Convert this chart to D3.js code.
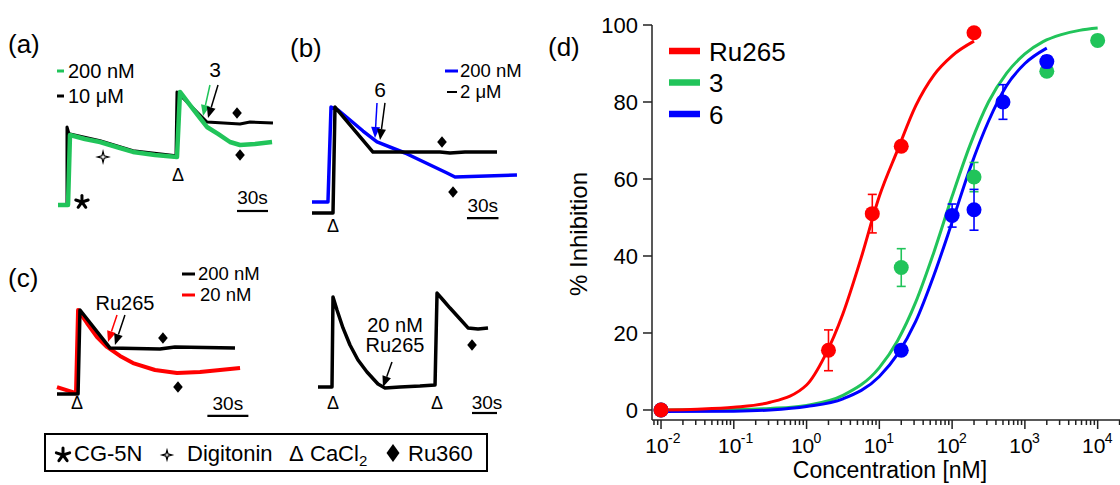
<!DOCTYPE html>
<html><head><meta charset="utf-8">
<script src="https://cdn.jsdelivr.net/npm/d3@7"></script>
<style>body{margin:0;background:#fff}svg{display:block}</style>
</head><body>
<svg id="c" width="1120" height="485"></svg>
<script>
// ---------- DATA ----------
// Panel (d): dose-response points (concentration nM, % inhibition, error)
const ruConc = [0.01, 2, 8, 20, 200];
const ruPct  = [0, 15.5, 51, 68.5, 98];
const ruErr  = [0, 5.3, 5, 0, 0];
const c3Conc = [0.01, 20, 200, 2000, 10000];
const c3Pct  = [0, 37, 60.5, 88, 96];
const c3Err  = [0, 4.9, 3.8, 0, 0];
const c6Conc = [0.01, 20, 100, 200, 500, 2000];
const c6Pct  = [0, 15.5, 50.5, 52, 80, 90.5];
const c6Err  = [0, 0, 3, 5.3, 4.5, 1.5];
// fitted curves
const ruFitConc = [0.01, 0.0316, 0.1, 0.316, 1, 1.78, 3.16, 5.62, 10, 17.8, 31.6, 56.2, 100, 200];
const ruFitPct  = [0, 0.2, 0.7, 2, 6.5, 14, 25, 39.5, 55.5, 67.5, 79, 87, 92, 95.8];
const c3FitConc = [0.01, 0.1, 0.316, 1, 3.16, 10, 17.8, 31.6, 56.2, 100, 178, 316, 562, 1000, 1780, 3160, 5620, 10000];
const c3FitPct  = [0, 0.1, 0.4, 1.2, 3.8, 11, 18, 28, 41, 55.5, 69, 80, 87.5, 92.5, 95.7, 97.5, 98.6, 99.2];
const c6FitConc = [0.01, 0.1, 0.316, 1, 3.16, 10, 17.8, 31.6, 56.2, 100, 178, 316, 562, 1000, 2000];
const c6FitPct  = [-0.4, -0.3, 0, 0.9, 2.9, 8.7, 14.5, 23, 35, 48.8, 63, 75, 84.3, 90, 94];
const yTicks = [0, 20, 40, 60, 80, 100];
const xDecades = [-2, -1, 0, 1, 2, 3, 4];
const seriesNames = ["Ru265", "3", "6"];

// Panels (a)-(c): traces as [time s, signal a.u.]
const aBlack = [[1.9,0],[8.7,0],[8.7,65],[10.6,59.5],[40.7,53.5],[72.6,45.3],[114.2,41],[115.2,94.2],[144.2,69.2],[176.2,67.5],[185.9,69.2],[208.1,68.3]];
const aGreen = [[0,0],[9.7,0],[11.6,58.3],[26.1,55],[40.7,52.5],[50.3,50],[60,47.5],[72.6,44.2],[93.9,41.7],[115.2,40],[118.1,94.2],[127.8,83.3],[137.5,72.5],[144.2,65],[154.9,59.2],[166.5,52.5],[176.2,50],[190.7,50.8],[207.2,52.5]];
const bBlue  = [[0,9.2],[15.2,9.2],[18.1,88.3],[24.8,85.8],[36.2,77.5],[48.6,68.3],[61.9,59.2],[88.6,50],[128.6,33.3],[136.2,30],[195.2,31.7]];
const bBlack = [[0,0],[20,0],[21.9,88.3],[58.1,50.8],[121.9,50.8],[131.4,50],[145.7,50.8],[176.2,50.8]];
const cRed   = [[0,5.8],[13.9,0.8],[15.4,70],[21.9,59.2],[29.3,47.5],[36.6,39.2],[46.1,31.7],[55.6,25.8],[71.7,20],[87.8,17.5],[104.6,18.3],[133.9,21.7]];
const cBlack = [[0,0],[15.4,0],[16.8,70],[38.8,38.3],[75.3,37.5],[86.3,39.2],[130.2,38.3]];
const crBlack= [[0,0],[16.8,0],[18,75],[22.8,64.2],[30,49.2],[38.4,35],[48,22.5],[58.8,12.5],[72,2.5],[80.4,-0.8],[98.4,0],[122.4,0.8],[140.5,1.7],[142.9,78.3],[150.1,72.5],[158.5,65.8],[170.5,56.7],[180.1,49.2],[192.1,48.3],[204.1,49.2]];

// ---------- SETUP ----------
const FONT = "'Liberation Sans', Arial, Helvetica, sans-serif";
const GREEN = "#21c45a", RED = "#ff0000", BLUE = "#0000ff";
const svg = d3.select("#c").style("font-family", FONT);
svg.append("rect").attr("width",1120).attr("height",485).attr("fill","#fff");

function txt(x, y, s, size, anchor, fill) {
  return svg.append("text").attr("x", x).attr("y", y).attr("font-size", size)
    .attr("text-anchor", anchor || "start").attr("fill", fill || "#000").text(s);
}
function diamond(x, y, w, h) {
  svg.append("path").attr("d", `M${x},${y-h}L${x+w},${y}L${x},${y+h}L${x-w},${y}Z`).attr("fill", "#000");
}
function asterisk(x, y, r) {
  for (let i = 0; i < 5; i++) {
    const a = -Math.PI/2 + i * 2*Math.PI/5;
    svg.append("line").attr("x1", x).attr("y1", y).attr("x2", x + r*Math.cos(a)).attr("y2", y + r*Math.sin(a))
      .attr("stroke", "#000").attr("stroke-width", 3).attr("stroke-linecap", "round");
  }
}
function sparkle(x, y, R, r) {
  const pts = [];
  for (let i = 0; i < 8; i++) {
    const a = -Math.PI/2 + i*Math.PI/4, rr = i % 2 ? r : R;
    pts.push([x + rr*Math.cos(a), y + rr*Math.sin(a)]);
  }
  svg.append("path").attr("d", "M" + pts.map(p => p.join(",")).join("L") + "Z")
    .attr("fill", "#fff").attr("stroke", "#000").attr("stroke-width", 1.2);
}
function arrow(x1, y1, x2, y2, color) {
  const a = Math.atan2(y2-y1, x2-x1), L = 11, hw = 4.5;
  const bx = x2 - L*Math.cos(a), by = y2 - L*Math.sin(a);
  svg.append("line").attr("x1", x1).attr("y1", y1).attr("x2", bx).attr("y2", by)
    .attr("stroke", color).attr("stroke-width", 1.5);
  const px = -Math.sin(a)*hw, py = Math.cos(a)*hw;
  svg.append("path").attr("d", `M${x2},${y2}L${bx+px},${by+py}L${bx-px},${by-py}Z`).attr("fill", color);
}
function panel(x0, y0, k) {
  return {
    x: d3.scaleLinear().domain([0, 100]).range([x0, x0 + 100*k]),
    y: d3.scaleLinear().domain([0, 100]).range([y0, y0 - 120])
  };
}
function trace(P, data, color, w) {
  const line = d3.line().x(d => P.x(d[0])).y(d => P.y(d[1])).curve(d3.curveLinear);
  svg.append("path").datum(data).attr("d", line).attr("fill", "none")
    .attr("stroke", color).attr("stroke-width", w).attr("stroke-linejoin", "round");
}
function scaleBar(P, t1, v, labelY) {
  svg.append("line").attr("x1", P.x(t1)).attr("x2", P.x(t1 + 30)).attr("y1", P.y(v)).attr("y2", P.y(v))
    .attr("stroke", "#000").attr("stroke-width", 2.2);
  txt((P.x(t1) + P.x(t1 + 30))/2, labelY, "30s", 19, "middle");
}
function delta(P, t, v) { txt(P.x(t), P.y(v), "Δ", 18, "middle"); }

// ---------- PANEL (a) ----------
const PA = panel(58, 205, 1.033);
txt(8, 53, "(a)", 26);
trace(PA, aBlack, "#000", 3);
trace(PA, aGreen, GREEN, 4.5);
svg.append("line").attr("x1",57).attr("x2",64).attr("y1",71).attr("y2",71).attr("stroke",GREEN).attr("stroke-width",3);
txt(68, 78, "200 nM", 20);
svg.append("line").attr("x1",57).attr("x2",64).attr("y1",96).attr("y2",96).attr("stroke","#000").attr("stroke-width",3);
txt(68, 103, "10 μM", 20);
asterisk(PA.x(23.2), PA.y(2.5), 6.5);
sparkle(PA.x(43.6), PA.y(40), 5.5, 1.6);
delta(PA, 116.2, 20);
diamond(PA.x(173.3), PA.y(76.7), 4.8, 5.8);
diamond(PA.x(176.2), PA.y(41.7), 4.8, 5.8);
txt(215, 77, "3", 21, "middle");
arrow(PA.x(147.1), PA.y(100), PA.x(140.4), PA.y(74.2), GREEN);
arrow(PA.x(154.9), PA.y(100), PA.x(145.2), PA.y(72.5), "#000");
scaleBar(PA, 173.3, -5, 204);

// ---------- PANEL (b) ----------
const PB = panel(312, 213, 1.05);
txt(290, 57, "(b)", 26);
trace(PB, bBlue, BLUE, 3.5);
trace(PB, bBlack, "#000", 3.5);
svg.append("line").attr("x1",445).attr("x2",458).attr("y1",71).attr("y2",71).attr("stroke",BLUE).attr("stroke-width",3);
txt(460, 77, "200 nM", 18.5);
svg.append("line").attr("x1",447).attr("x2",457).attr("y1",92).attr("y2",92).attr("stroke","#000").attr("stroke-width",2);
txt(460, 98, "2 μM", 18.5);
delta(PB, 20, -15.8);
diamond(PB.x(123.8), PB.y(59.2), 4.8, 5.8);
diamond(PB.x(134.3), PB.y(17.5), 4.8, 5.8);
txt(380, 97, "6", 21, "middle");
arrow(PB.x(61.9), PB.y(91.7), PB.x(60), PB.y(62.5), BLUE);
arrow(PB.x(69.5), PB.y(91.7), PB.x(64.8), PB.y(60.8), "#000");
scaleBar(PB, 147.6, -4.2, 212);

// ---------- PANEL (c) left ----------
const PC = panel(57, 394, 1.367);
txt(8, 287, "(c)", 26);
trace(PC, cRed, RED, 4);
trace(PC, cBlack, "#000", 3.5);
svg.append("line").attr("x1",182).attr("x2",195).attr("y1",274).attr("y2",274).attr("stroke","#000").attr("stroke-width",3);
txt(198, 280, "200 nM", 18.5);
svg.append("line").attr("x1",182).attr("x2",195).attr("y1",295).attr("y2",295).attr("stroke",RED).attr("stroke-width",3);
txt(200, 301, "20 nM", 18.5);
txt(125, 310, "Ru265", 20, "middle");
delta(PC, 14.6, -12.5);
diamond(PC.x(77.5), PC.y(46.7), 4.8, 5.8);
diamond(PC.x(88.5), PC.y(5.8), 4.8, 5.8);
arrow(PC.x(43.9), PC.y(65.8), PC.x(37.3), PC.y(43.3), RED);
arrow(PC.x(49.7), PC.y(65.8), PC.x(42.4), PC.y(40.8), "#000");
scaleBar(PC, 110, -18.3, 410);

// ---------- PANEL (c) right ----------
const PR = panel(318, 387, 0.833);
trace(PR, crBlack, "#000", 3.5);
txt(395, 332, "20 nM", 20, "middle");
txt(395, 352, "Ru265", 20, "middle");
arrow(PR.x(88.8), PR.y(20.8), PR.x(78), PR.y(0), "#000");
delta(PR, 18, -18.3);
delta(PR, 142.9, -18.3);
diamond(PR.x(184.9), PR.y(35), 4.8, 5.8);
svg.append("line").attr("x1", PR.x(184.9)).attr("x2", PR.x(214.9)).attr("y1", 413).attr("y2", 413)
  .attr("stroke", "#000").attr("stroke-width", 2.2);
txt(487, 409, "30s", 19, "middle");

// ---------- LEGEND BOX ----------
svg.append("rect").attr("x",45).attr("y",434).attr("width",442).attr("height",37)
  .attr("fill","none").attr("stroke","#000").attr("stroke-width",2);
asterisk(63, 455, 7);
txt(74, 461, "CG-5N", 22);
sparkle(167, 455, 5, 1.5);
txt(187, 461, "Digitonin", 22);
txt(289, 461, "Δ", 22);
const cacl = txt(310, 461, "CaCl", 22);
cacl.append("tspan").attr("font-size", 15).attr("dy", 5).text("2");
diamond(393, 453, 6.5, 9);
txt(408, 461, "Ru360", 22);

// ---------- PANEL (d) ----------
const X = d3.scaleLog().domain([Math.pow(10, -2.124), Math.pow(10, 4.307)]).range([652, 1120]);
const Y = d3.scaleLinear().domain([-2.6, 100]).range([420, 25]);
const axisColor = "#222";
txt(548, 56, "(d)", 26);
svg.append("line").attr("x1",652).attr("x2",652).attr("y1",Y(100)).attr("y2",420).attr("stroke",axisColor).attr("stroke-width",1.5);
svg.append("line").attr("x1",652).attr("x2",1120).attr("y1",420).attr("y2",420).attr("stroke",axisColor).attr("stroke-width",1.5);
yTicks.forEach(v => {
  svg.append("line").attr("x1",643).attr("x2",652).attr("y1",Y(v)).attr("y2",Y(v)).attr("stroke",axisColor).attr("stroke-width",1.5);
  txt(638, Y(v), String(v), 22, "end").attr("dy", "0.36em");
});
X.ticks().forEach(t => {
  const lg = Math.log10(t);
  const major = Math.abs(lg - Math.round(lg)) < 1e-6;
  svg.append("line").attr("x1",X(t)).attr("x2",X(t)).attr("y1",420).attr("y2",major ? 429 : 425)
    .attr("stroke",axisColor).attr("stroke-width",1.5);
});
xDecades.forEach(d => {
  const xp = X(Math.pow(10, d));
  txt(xp - 4, 453, "10", 21, "middle");
  svg.append("text").attr("x", xp + 7).attr("y", 443).attr("font-size", 14).text(String(d));
});
txt(890, 478, "Concentration [nM]", 23, "middle");
svg.append("text").attr("transform", "translate(587,234) rotate(-90)").attr("text-anchor","middle")
  .attr("font-size", 24).text("% Inhibition");

const fit = d3.line().x(d => X(d[0])).y(d => Y(d[1])).curve(d3.curveMonotoneX);
const zip = (a, b) => a.map((v, i) => [v, b[i]]);
const series = [
  {conc: c3Conc, pct: c3Pct, err: c3Err, fc: c3FitConc, fp: c3FitPct, color: GREEN},
  {conc: c6Conc, pct: c6Pct, err: c6Err, fc: c6FitConc, fp: c6FitPct, color: BLUE},
  {conc: ruConc, pct: ruPct, err: ruErr, fc: ruFitConc, fp: ruFitPct, color: RED}
];
series.forEach(s => {
  svg.append("path").datum(zip(s.fc, s.fp)).attr("d", fit).attr("fill","none")
    .attr("stroke", s.color).attr("stroke-width", 3);
});
series.forEach(s => {
  s.conc.forEach((c, i) => {
    const e = s.err[i];
    if (e > 0) {
      const xp = X(c);
      const g = svg.append("g").attr("stroke", s.color).attr("stroke-width", 1.6);
      g.append("line").attr("x1",xp).attr("x2",xp).attr("y1",Y(s.pct[i]-e)).attr("y2",Y(s.pct[i]+e));
      g.append("line").attr("x1",xp-4.5).attr("x2",xp+4.5).attr("y1",Y(s.pct[i]-e)).attr("y2",Y(s.pct[i]-e));
      g.append("line").attr("x1",xp-4.5).attr("x2",xp+4.5).attr("y1",Y(s.pct[i]+e)).attr("y2",Y(s.pct[i]+e));
    }
  });
  svg.append("g").selectAll("circle").data(s.conc).join("circle")
    .attr("cx", d => X(d)).attr("cy", (d, i) => Y(s.pct[i])).attr("r", 7.5).attr("fill", s.color);
});
// legend (d)
[RED, GREEN, BLUE].forEach((col, i) => {
  const yy = 51 + i*31.5;
  svg.append("line").attr("x1",669).attr("x2",700).attr("y1",yy).attr("y2",yy).attr("stroke",col).attr("stroke-width",6.5);
  txt(709, yy + 9.5, seriesNames[i], 26);
});
</script>
</body></html>
